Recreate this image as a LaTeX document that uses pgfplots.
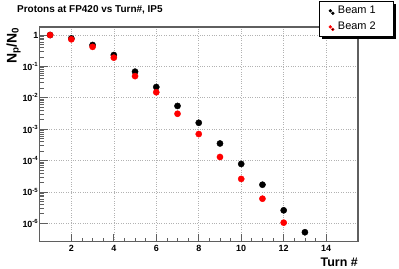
\documentclass[border=0pt]{standalone}
\usepackage{fontspec}
\setmainfont{Liberation Sans}
\usepackage{pgfplots}
\pgfplotsset{compat=1.18}
\usetikzlibrary{shadows}
\definecolor{axgray}{RGB}{95,95,95}
\begin{document}
\begin{tikzpicture}
\begin{axis}[name=ax, scale only axis, width=318.5bp, height=214.7bp,
  ymode=log, xmin=0.5, xmax=15.5, ymin=2.6e-7, ymax=1.8,
  xtick={2,4,...,14}, minor x tick num=3,
  ytick={1e-6,1e-5,1e-4,1e-3,1e-2,1e-1,1},
  yticklabels={10\textsuperscript{-6},10\textsuperscript{-5},10\textsuperscript{-4},10\textsuperscript{-3},10\textsuperscript{-2},10\textsuperscript{-1},1},
  tick pos=left, tick align=inside,
  major tick length=8bp, minor tick length=4bp,
  grid=major, major grid style={dotted, gray!60, line width=0.6bp},
  axis line style={draw=axgray, line width=1.1bp},
  every tick/.style={axgray, line width=0.8bp},
  ticklabel style={font=\bfseries\fontsize{9}{10}\selectfont},
  yticklabel style={inner xsep=1bp},
  /pgf/number format/assume math mode=true,
  legend style={at={(1.113,1.121)}, anchor=north east, draw=black, line width=0.5bp,
    fill=white, font=\fontsize{11}{12}\selectfont, inner xsep=9bp, inner ysep=3bp,
    row sep=3bp, cells={anchor=west},
    drop shadow={shadow xshift=2.5bp, shadow yshift=-2.5bp, opacity=1, fill=black}},
]
\addplot[only marks, mark=*, mark size=3.1bp, black,
  legend image code/.code={\fill[black] (0bp,0bp) circle (1.4bp);}]
  coordinates {(1,1.0) (2,0.78) (3,0.48) (4,0.23) (5,0.068) (6,0.022) (7,0.0055)
  (8,0.0016) (9,3.5e-4) (10,7.8e-5) (11,1.7e-5) (12,2.6e-6) (13,5.2e-7)};
\addlegendentry{\hspace{4bp}Beam 1\hspace{7bp}\mbox{}}
\addplot[only marks, mark=*, mark size=3.1bp, red,
  legend image code/.code={\fill[red] (0bp,0bp) circle (1.4bp);}]
  coordinates {(1,1.0) (2,0.73) (3,0.42) (4,0.19) (5,0.049) (6,0.015) (7,0.0031)
  (8,7.0e-4) (9,1.3e-4) (10,2.6e-5) (11,6.1e-6) (12,1.05e-6)};
\addlegendentry{\hspace{4bp}Beam 2\hspace{7bp}\mbox{}}
\end{axis}
\node[anchor=base west, font=\bfseries\fontsize{10}{12}\selectfont, inner sep=0pt]
  at ([xshift=-22.5bp, yshift=14bp]ax.north west) {Protons at FP420 vs Turn\#, IP5};
\node[anchor=base east, rotate=90, font=\bfseries\fontsize{14}{16}\selectfont, inner sep=0pt]
  at ([xshift=-23bp]ax.north west) {N\textsubscript{p}/N\textsubscript{0}};
\node[anchor=base east, font=\bfseries\fontsize{12.5}{14}\selectfont, inner sep=0pt]
  at ([yshift=-24.5bp]ax.south east) {Turn \#};
\pgfresetboundingbox
\path[use as bounding box] ([xshift=-39.5bp,yshift=-27.3bp]ax.south west) rectangle ([xshift=41bp,yshift=27bp]ax.north east);
\end{tikzpicture}
\end{document}
